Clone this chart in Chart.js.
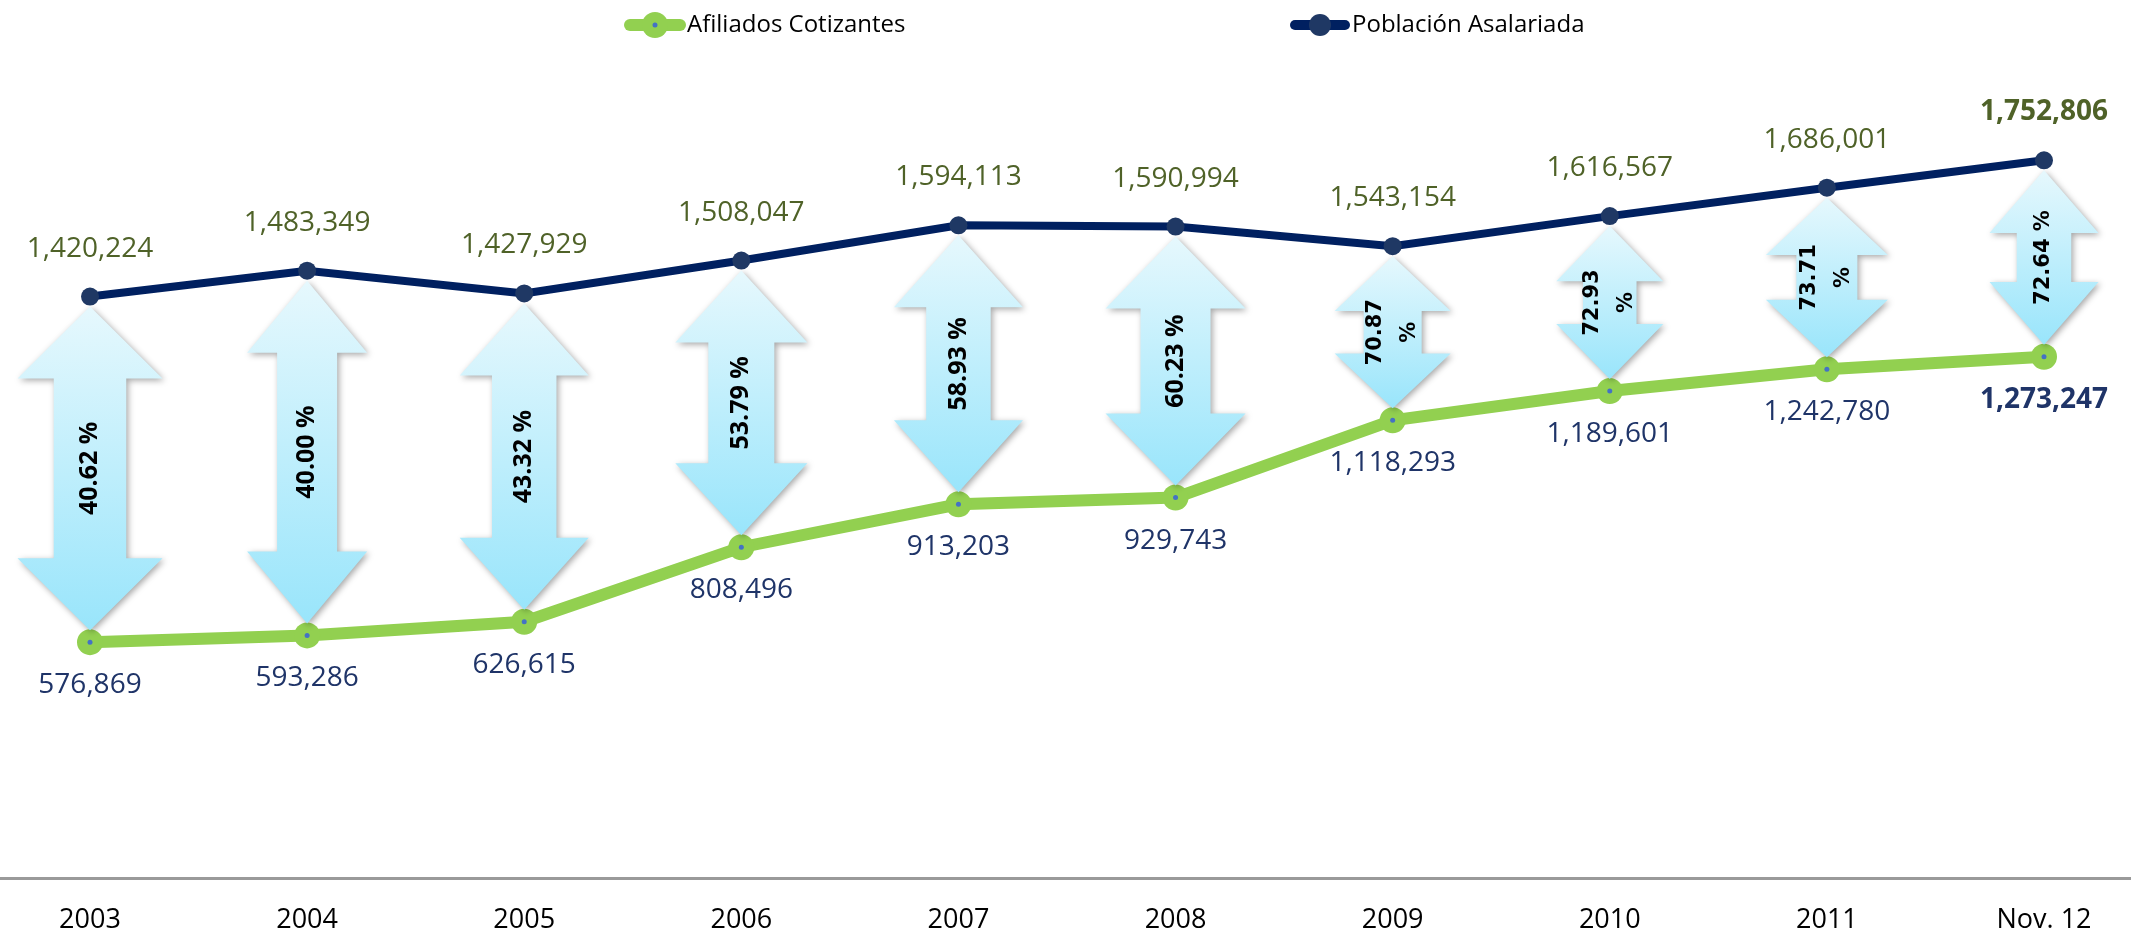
<html>
<head>
	<title>Afiliados Cotizantes y Población Asalariada</title>
	<style>
		html, body {
			margin: 0;
			padding: 0;
			background: #fff;
		}

		#app {
			width: 2131px;
			height: 938px;
		}
	</style>
</head>
<body>

	<div id="app">
		<canvas id="afiliadosCanvas"></canvas>
	</div>

	<script src="https://cdn.jsdelivr.net/npm/chart.js@4.4.1/dist/chart.umd.min.js"></script>
	<script>
		// data
		const years = ['2003', '2004', '2005', '2006', '2007', '2008', '2009', '2010', '2011', 'Nov. 12'];
		const afiliados = [576869, 593286, 626615, 808496, 913203, 929743, 1118293, 1189601, 1242780, 1273247];
		const poblacion = [1420224, 1483349, 1427929, 1508047, 1594113, 1590994, 1543154, 1616567, 1686001, 1752806];
		const porcentajes = ['40.62 %', '40.00 %', '43.32 %', '53.79 %', '58.93 %', '60.23 %', '70.87\n%', '72.93\n%', '73.71\n%', '72.64 %'];

		// arrow head widths (style only)
		const arrowWidths = [145, 120, 129, 132, 129, 140, 116, 107, 122, 109];

		const fmt = function (v) {
			return v.toLocaleString('en-US');
		};

		var overlay = {
			id: 'overlay',
			afterDatasetsDraw: function (chart) {
				var ctx = chart.ctx;
				var afil = chart.getDatasetMeta(0).data;
				var pobl = chart.getDatasetMeta(1).data;
				var last = years.length - 1;

				// little blue dot inside the green markers
				ctx.save();
				ctx.fillStyle = '#4472C4';
				afil.forEach(function (p) {
					ctx.beginPath();
					ctx.arc(p.x, p.y, 2.5, 0, Math.PI * 2);
					ctx.fill();
				});
				ctx.restore();

				// double arrows between the two lines
				pobl.forEach(function (p, i) {
					var q = afil[i];
					var cx = p.x;
					var yt = p.y + 10, yb = q.y - 12;
					var len = yb - yt;
					var hw = arrowWidths[i] / 2, sw = arrowWidths[i] / 4;
					var hl = Math.min(72, 0.36 * len);

					ctx.save();
					var g = ctx.createLinearGradient(0, yt, 0, yb);
					g.addColorStop(0, '#E6F8FD');
					g.addColorStop(1, '#99E5FB');
					ctx.fillStyle = g;
					ctx.shadowColor = 'rgba(0,0,0,0.35)';
					ctx.shadowBlur = 6;
					ctx.shadowOffsetX = 2;
					ctx.shadowOffsetY = 2;
					ctx.beginPath();
					ctx.moveTo(cx, yt);
					ctx.lineTo(cx + hw, yt + hl);
					ctx.lineTo(cx + sw, yt + hl);
					ctx.lineTo(cx + sw, yb - hl);
					ctx.lineTo(cx + hw, yb - hl);
					ctx.lineTo(cx, yb);
					ctx.lineTo(cx - hw, yb - hl);
					ctx.lineTo(cx - sw, yb - hl);
					ctx.lineTo(cx - sw, yt + hl);
					ctx.lineTo(cx - hw, yt + hl);
					ctx.closePath();
					ctx.fill();
					ctx.restore();

					ctx.save();
					ctx.translate(cx, (yt + yb) / 2);
					ctx.rotate(-Math.PI / 2);
					ctx.fillStyle = '#000';
					ctx.font = i < 6 ? 'bold 25px "Open Sans"' : 'bold 21px "DejaVu Sans"';
					ctx.textAlign = 'center';
					ctx.textBaseline = 'middle';
					var lines = porcentajes[i].split('\n');
					lines.forEach(function (t, k) {
						ctx.fillText(t, 0, (k - (lines.length - 1) / 2) * 34);
					});
					ctx.restore();
				});

				// value labels
				ctx.save();
				ctx.textAlign = 'center';
				ctx.textBaseline = 'middle';
				pobl.forEach(function (p, i) {
					ctx.font = (i === last ? 'bold ' : '') + '28px "Open Sans"';
					ctx.fillStyle = '#4F6228';
					ctx.fillText(fmt(poblacion[i]), p.x, p.y - 48);
				});
				afil.forEach(function (p, i) {
					ctx.font = (i === last ? 'bold ' : '') + '28px "Open Sans"';
					ctx.fillStyle = '#1F3468';
					ctx.fillText(fmt(afiliados[i]), p.x, p.y + 43);
				});
				ctx.restore();
			},
			afterDraw: function (chart) {
				var ctx = chart.ctx;
				// axis line across the whole width
				ctx.save();
				ctx.strokeStyle = '#9A9A9A';
				ctx.lineWidth = 3;
				ctx.beginPath();
				ctx.moveTo(0, chart.chartArea.bottom);
				ctx.lineTo(chart.width, chart.chartArea.bottom);
				ctx.stroke();
				ctx.restore();

				// legend
				var items = [
					{ ds: chart.data.datasets[0], x: 625, r: 13, w: 12 },
					{ ds: chart.data.datasets[1], x: 1290, r: 11, w: 10 }
				];
				ctx.save();
				items.forEach(function (it) {
					var y = 25;
					ctx.strokeStyle = it.ds.borderColor;
					ctx.lineWidth = it.w;
					ctx.lineCap = 'round';
					ctx.beginPath();
					ctx.moveTo(it.x + 5, y);
					ctx.lineTo(it.x + 55, y);
					ctx.stroke();
					ctx.fillStyle = it.ds.pointBackgroundColor;
					ctx.beginPath();
					ctx.arc(it.x + 30, y, it.r, 0, Math.PI * 2);
					ctx.fill();
					if (it.ds === chart.data.datasets[0]) {
						ctx.fillStyle = '#4472C4';
						ctx.beginPath();
						ctx.arc(it.x + 30, y, 2.5, 0, Math.PI * 2);
						ctx.fill();
					}
					ctx.fillStyle = '#000';
					ctx.font = '24px "Open Sans"';
					ctx.textAlign = 'left';
					ctx.textBaseline = 'middle';
					ctx.fillText(it.ds.label, it.x + 62, y);
				});
				ctx.restore();
			}
		};

		var ctx = document.getElementById('afiliadosCanvas').getContext('2d');

		var myChart = new Chart(ctx, {
			type: 'line',
			data: {
				labels: years,
				datasets: [{
					label: 'Afiliados Cotizantes',
					data: afiliados,
					borderColor: '#92D050',
					backgroundColor: '#92D050',
					pointBackgroundColor: '#92D050',
					pointBorderWidth: 0,
					pointRadius: 13,
					borderWidth: 12,
					tension: 0
				}, {
					label: 'Población Asalariada',
					data: poblacion,
					borderColor: '#002060',
					backgroundColor: '#1F3864',
					pointBackgroundColor: '#1F3864',
					pointBorderWidth: 0,
					pointRadius: 9,
					borderWidth: 8,
					tension: 0
				}]
			},
			options: {
				responsive: true,
				maintainAspectRatio: false,
				animation: false,
				layout: { padding: { top: 59, left: 90, right: 87, bottom: 0 } },
				plugins: {
					legend: { display: false },
					tooltip: { enabled: false }
				},
				scales: {
					x: {
						offset: false,
						grid: { display: false, drawTicks: false },
						border: { display: false },
						ticks: {
							color: '#000',
							padding: 26,
							maxRotation: 0,
							autoSkip: false,
							font: { family: 'Open Sans', size: 27 }
						},
						afterFit: function (scale) { scale.height = 59.5; }
					},
					y: {
						display: false,
						min: 0,
						max: 2000000
					}
				}
			},
			plugins: [overlay]
		});
	</script>
</body>
</html>
